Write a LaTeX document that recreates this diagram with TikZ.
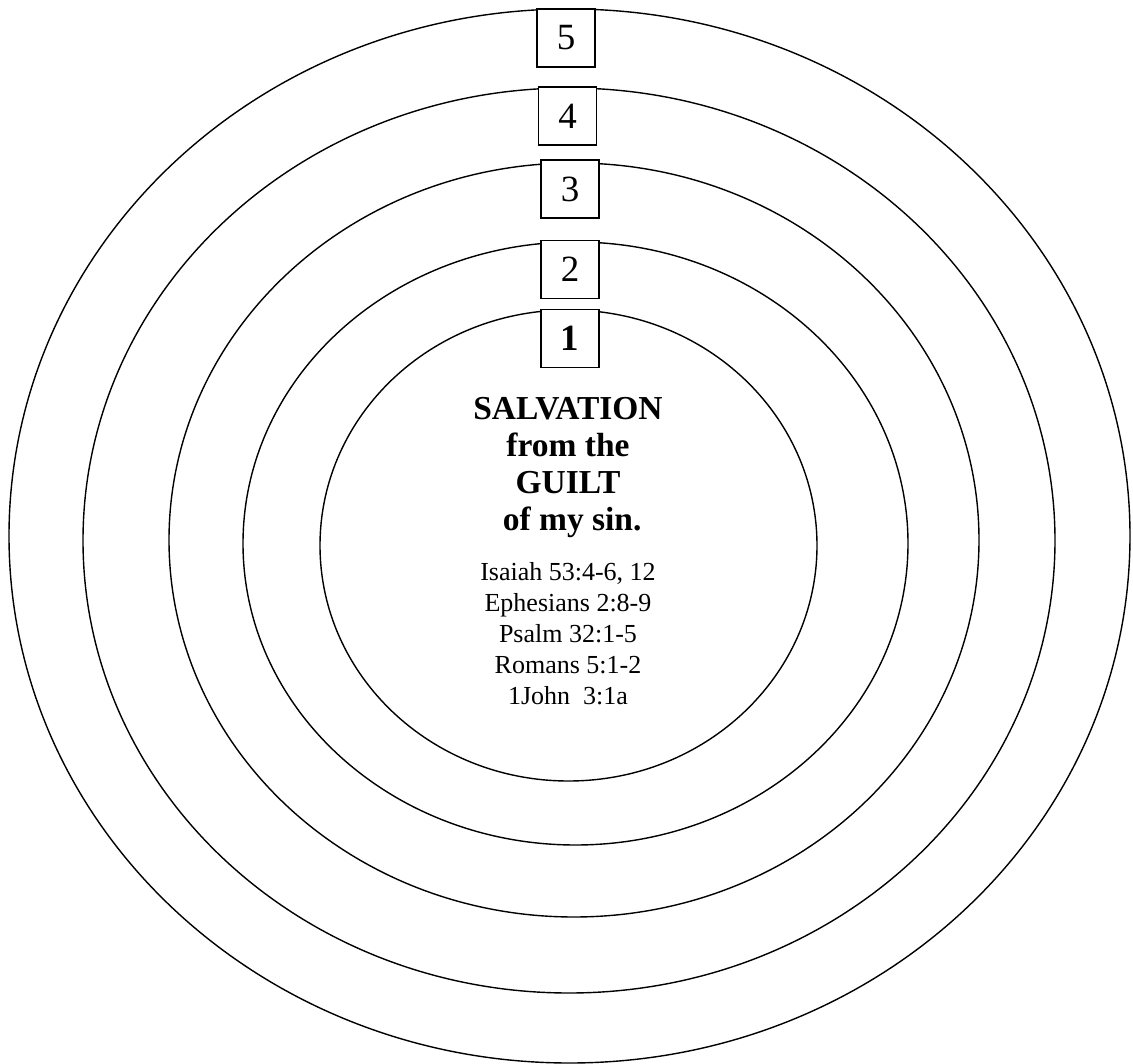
\documentclass[tikz,border=0pt]{standalone}
\usepackage{fontspec}
\setmainfont{Liberation Serif}
\usepackage{xcolor}
\usepackage{tikz}
\usetikzlibrary{positioning}
\definecolor{figline}{RGB}{0,0,0}
\tikzset{
  ring/.style ={draw=figline, line width=1.4pt},
  numbox/.style ={draw=figline, line width=1.3pt, fill=white, minimum width=58pt, minimum height=58pt, inner sep=0pt, font=\fontsize{37}{40}\selectfont},
  headtxt/.style ={font=\fontsize{33.5}{37}\selectfont\bfseries, align=center, inner sep=0pt},
  reftxt/.style ={font=\fontsize{26}{31}\selectfont, align=center, inner sep=0pt},
}
\begin{document}
\begin{tikzpicture}[x=1pt,y=-1pt]
  \useasboundingbox (0,0) rectangle (1133,1064);
  \draw[ring] (569.5,536) ellipse [x radius=560.5, y radius=527];
  \draw[ring] (569,540.5) ellipse [x radius=486, y radius=452.5];
  \draw[ring] (574,540) ellipse [x radius=405, y radius=377];
  \draw[ring] (575.5,543.5) ellipse [x radius=332.5, y radius=301.5];
  \draw[ring] (568.5,545.5) ellipse [x radius=248.5, y radius=235.5];
  \node[numbox] (n5) at (566,38) {5};
  \node[numbox] (n4) at (567.5,116) {4};
  \node[numbox] (n3) at (570,189) {3};
  \node[numbox] (n2) at (570,269.5) {2};
  \node[numbox,font=\fontsize{37}{40}\selectfont\bfseries] (n1) at (570,338.5) {1};
  \node[headtxt] (title) at (568,468) {SALVATION\\from the\\GUILT\\\ of my sin.};
  \node[reftxt] (refs) at (568,634) {Isaiah 53:4-6, 12\\Ephesians 2:8-9\\Psalm 32:1-5\\Romans 5:1-2\\1John\ \ 3:1a};
\end{tikzpicture}
\end{document}
